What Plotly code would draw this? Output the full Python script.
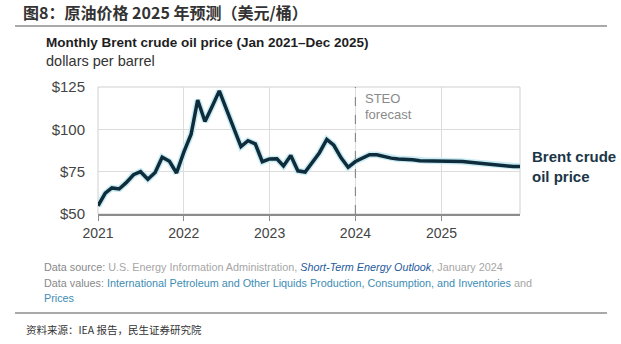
import plotly.graph_objects as go
import pandas as pd

# Monthly Brent spot price, Jan 2021 - Dec 2023 (history) and STEO forecast Jan 2024 - Dec 2025
months = pd.date_range("2021-01-01", "2025-12-01", freq="MS")
brent_price = [
    54.8, 62.3, 65.4, 64.8, 68.5, 73.2, 75.0, 70.5, 74.5, 83.5, 81.1, 74.2,
    86.5, 97.1, 117.3, 104.6, 113.3, 122.7, 111.9, 100.5, 89.8, 93.3, 91.4, 80.9,
    82.5, 82.6, 78.4, 84.6, 75.5, 74.8, 80.1, 86.2, 94.0, 90.6, 83.2, 77.6,
    81.0, 83.0, 85.0, 85.0, 84.0, 83.0, 82.5, 82.5, 82.0, 81.5, 81.5, 81.5,
    81.5, 81.5, 81.0, 81.0, 80.5, 80.0, 80.0, 79.5, 79.0, 78.5, 78.0, 78.0,
]
y_ticks = [50, 75, 100, 125]
y_tick_labels = ["$50", "$75", "$100", "$125"]
x_ticks = ["2021-01-01", "2022-01-01", "2023-01-01", "2024-01-01", "2025-01-01"]
x_tick_labels = ["2021", "2022", "2023", "2024", "2025"]
forecast_start = "2024-01-01"

W, H = 621, 344
L, R, T, B = 98, 101, 87, 130
PW, PH = W - L - R, H - T - B

SANS = "Liberation Sans, Arial, sans-serif"
CJK = "Noto Sans CJK SC, sans-serif"


def px(x):
    return (x - L) / PW


def py(y):
    return (H - B - y) / PH


fig = go.Figure()

# soft halo beneath the price line
fig.add_trace(go.Scatter(x=months, y=brent_price, mode="lines",
                         line=dict(color="#c9ecf3", width=6.5),
                         hoverinfo="skip", showlegend=False))
fig.add_trace(go.Scatter(x=months, y=brent_price, mode="lines",
                         line=dict(color="#0f2c3c", width=3.5),
                         showlegend=False))

fig.update_layout(
    width=W, height=H,
    margin=dict(l=L, r=R, t=T, b=B),
    paper_bgcolor="white", plot_bgcolor="white",
    font=dict(family=SANS, color="#444"),
    xaxis=dict(
        type="date",
        range=[months[0], months[-1]],
        tickvals=x_ticks, ticktext=x_tick_labels,
        showgrid=True, gridcolor="#dcdcdc", gridwidth=1,
        showline=True, linecolor="#8c8c8c", linewidth=1.5,
        ticks="outside", ticklen=5, tickcolor="#8c8c8c",
        tickfont=dict(size=14, color="#444", family=SANS),
        zeroline=False, fixedrange=True,
    ),
    yaxis=dict(
        range=[y_ticks[0], y_ticks[-1]],
        tickvals=y_ticks, ticktext=y_tick_labels,
        showgrid=True, gridcolor="#dcdcdc", gridwidth=1,
        showline=False, ticks="", ticklabelstandoff=12,
        tickfont=dict(size=15, color="#444", family=SANS),
        zeroline=False, fixedrange=True,
    ),
)

# light frame around the plot area
fig.add_shape(type="rect", xref="paper", yref="paper", x0=0, x1=1, y0=0, y1=1,
              line=dict(color="#cfcfcf", width=1), layer="below")
# forecast divider
fig.add_shape(type="line", xref="x", yref="paper", x0=forecast_start, x1=forecast_start,
              y0=0, y1=1, line=dict(color="#8a8a8a", width=1.2, dash="dash"))

# page rules above and below the figure
for yy in (26, 313):
    fig.add_shape(type="line", xref="paper", yref="paper", x0=px(15), x1=px(607),
                  y0=py(yy), y1=py(yy), line=dict(color="#555", width=1.2))

ann = []
ann.append(dict(text="<b>图8：原油价格 2025 年预测（美元/桶）</b>", x=px(21), y=py(12),
                font=dict(family=CJK, size=16, color="#333")))
ann.append(dict(text="<b>Monthly Brent crude oil price (Jan 2021–Dec 2025)</b>", x=px(44), y=py(43),
                font=dict(family=SANS, size=13.5, color="#1e1e1e")))
ann.append(dict(text="dollars per barrel", x=px(44), y=py(61),
                font=dict(family=SANS, size=14.5, color="#333")))
ann.append(dict(text="STEO", x=px(363), y=py(98),
                font=dict(family=SANS, size=13, color="#8a8a8a")))
ann.append(dict(text="forecast", x=px(363), y=py(114),
                font=dict(family=SANS, size=13, color="#8a8a8a")))
ann.append(dict(text="<b>Brent crude</b>", x=px(530), y=py(156),
                font=dict(family=SANS, size=15, color="#1b3647")))
ann.append(dict(text="<b>oil price</b>", x=px(530), y=py(176),
                font=dict(family=SANS, size=15, color="#1b3647")))
ann.append(dict(
    text="<span style='color:#888'>Data source:</span> U.S. Energy Information Administration, "
         "<i><span style='color:#1f5a9c'>Short-Term Energy Outlook</span></i>, January 2024",
    x=px(42), y=py(267), font=dict(family=SANS, size=10.8, color="#a6a6a6")))
ann.append(dict(
    text="<span style='color:#888'>Data values:</span> "
         "<span style='color:#3d8db3'>International Petroleum and Other Liquids Production, "
         "Consumption, and Inventories</span> and",
    x=px(42), y=py(283), font=dict(family=SANS, size=10.8, color="#a6a6a6")))
ann.append(dict(text="Prices", x=px(42), y=py(298),
                font=dict(family=SANS, size=10.8, color="#3d8db3")))
ann.append(dict(text="资料来源：IEA 报告，民生证券研究院", x=px(24), y=py(329),
                font=dict(family=CJK, size=10.5, color="#333")))

for a in ann:
    fig.add_annotation(xref="paper", yref="paper", xanchor="left", yanchor="middle",
                       showarrow=False, **a)

fig.write_html("out.html")
